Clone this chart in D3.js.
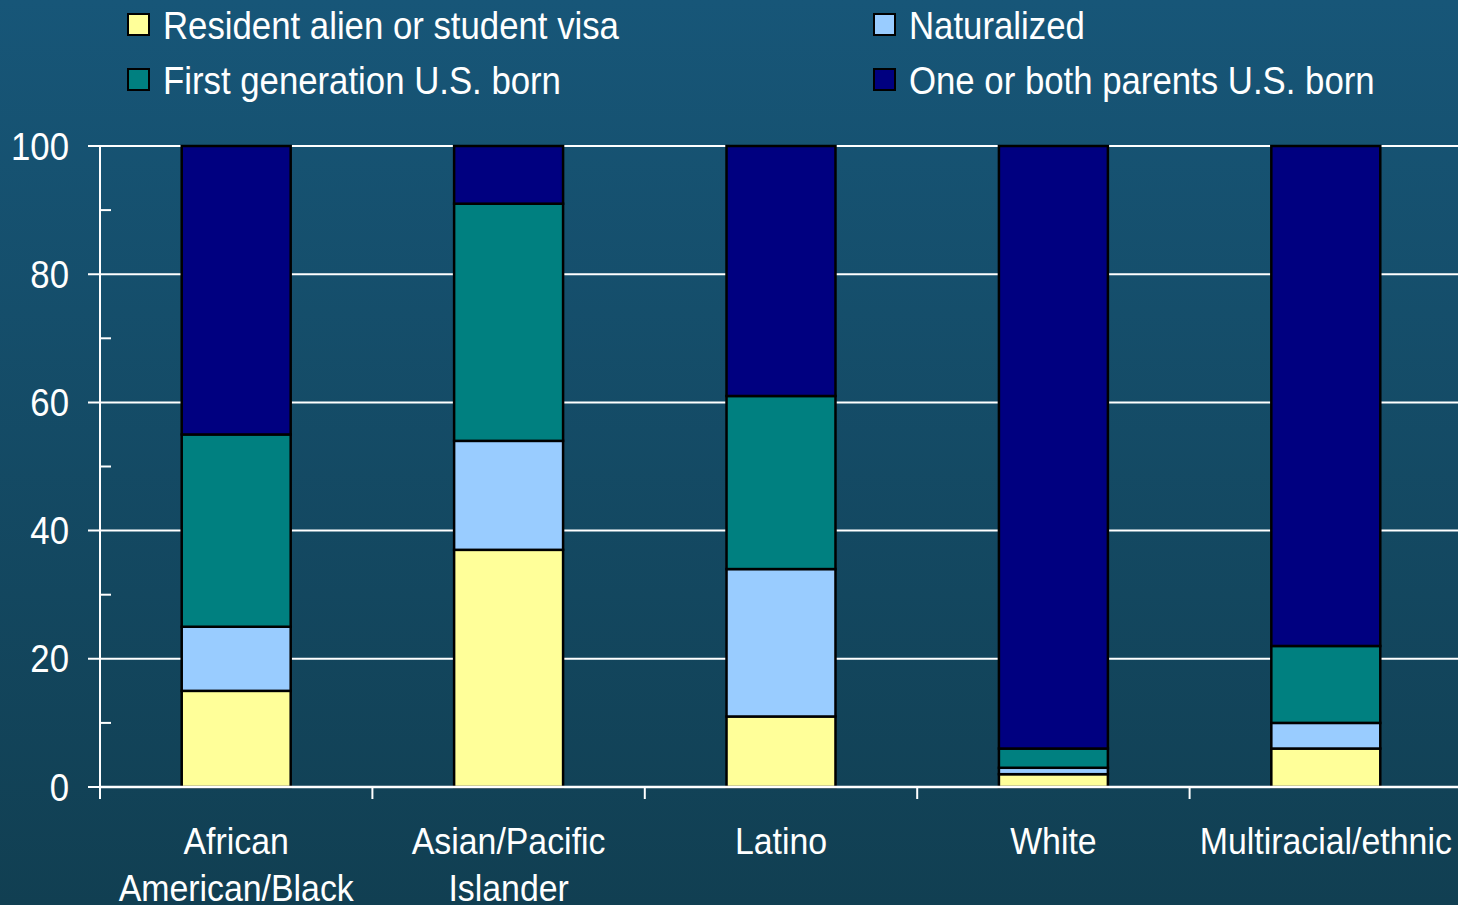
<!DOCTYPE html>
<html><head><meta charset="utf-8">
<script src="https://cdn.jsdelivr.net/npm/d3@7"></script>
<style>
html,body{margin:0;padding:0;overflow:hidden;background:#144a66;}
text{font-family:"Liberation Sans Narrow","Arial Narrow","Liberation Sans",sans-serif;fill:#fff;}
</style></head>
<body>
<svg id="c" width="1458" height="905"></svg>
<script>
const categories = ["African American/Black","Asian/Pacific Islander","Latino","White","Multiracial/ethnic"];
const categoryLines = [["African","American/Black"],["Asian/Pacific","Islander"],["Latino"],["White"],["Multiracial/ethnic"]];
const seriesNames = ["Resident alien or student visa","Naturalized","First generation U.S. born","One or both parents U.S. born"];
const residentVisa = [15, 37, 11, 2, 6];
const naturalized = [10, 17, 23, 1, 4];
const firstGen = [30, 37, 27, 3, 12];
const parentsBorn = [45, 9, 39, 94, 78];
const yTicks = [0, 20, 40, 60, 80, 100];
const colors = ["#ffff99", "#99ccff", "#008080", "#000080"];

const svg = d3.select("#c");
const W = 1458, H = 905;
const SX = 0.915;
const defs = svg.append("defs");
const grad = defs.append("linearGradient").attr("id","bg").attr("x1",0).attr("y1",0).attr("x2",0).attr("y2",1);
grad.append("stop").attr("offset","0%").attr("stop-color","#175678");
grad.append("stop").attr("offset","100%").attr("stop-color","#113f52");
svg.append("rect").attr("width",W).attr("height",H).attr("fill","url(#bg)");

function label(px, py, str, size, anchor, dy){
  const g = svg.append("g").attr("transform", `translate(${px},${py}) scale(${SX},1)`);
  g.append("text").attr("x",0).attr("y",0).attr("dy", dy||0).attr("text-anchor", anchor||"start")
    .attr("font-size", size).text(str);
  return g;
}

const x0 = 100, bandW = 272.4;
const x = d3.scaleBand().domain(categories).range([x0, x0 + bandW*5]).paddingInner(0.6).paddingOuter(0.3);
const y = d3.scaleLinear().domain([0,100]).range([787,146]);

// gridlines
svg.append("g").selectAll("line").data(yTicks).join("line")
  .attr("x1", 88).attr("x2", W).attr("y1", d=>y(d)).attr("y2", d=>y(d))
  .attr("stroke","#fff").attr("stroke-width",2);
// minor ticks
svg.append("g").selectAll("line").data(d3.range(10,100,20)).join("line")
  .attr("x1", x0).attr("x2", x0+11).attr("y1", d=>y(d)).attr("y2", d=>y(d))
  .attr("stroke","#fff").attr("stroke-width",2);
// y axis line
svg.append("line").attr("x1",x0).attr("x2",x0).attr("y1",y(100)).attr("y2",y(0)+12).attr("stroke","#fff").attr("stroke-width",2);
// y labels
yTicks.forEach(d=>label(69, y(d), d, 38, "end", "0.36em"));

// stacked bars
const rows = categories.map((c,i)=>({cat:c, s0:residentVisa[i], s1:naturalized[i], s2:firstGen[i], s3:parentsBorn[i]}));
const stack = d3.stack().keys(["s0","s1","s2","s3"])(rows);
stack.forEach((layer,k)=>{
  svg.append("g").selectAll("rect").data(layer).join("rect")
    .attr("x", d=>x(d.data.cat)).attr("width", x.bandwidth())
    .attr("y", d=>y(d[1])).attr("height", d=>y(d[0])-y(d[1]))
    .attr("fill", colors[k]).attr("stroke","#000").attr("stroke-width",2.5);
});

// x axis line & ticks
svg.append("line").attr("x1",x0).attr("x2",W).attr("y1",y(0)).attr("y2",y(0)).attr("stroke","#fff").attr("stroke-width",2.5);
svg.append("g").selectAll("line").data(d3.range(0,5)).join("line")
  .attr("x1", i=>x0+i*bandW).attr("x2", i=>x0+i*bandW).attr("y1", y(0)).attr("y2", y(0)+12)
  .attr("stroke","#fff").attr("stroke-width",2);

// category labels
categories.forEach((c,i)=>{
  const cx = x(c) + x.bandwidth()/2;
  categoryLines[i].forEach((ln,j)=>{
    label(cx, 854 + j*47, ln, 37, "middle");
  });
});

// legend
const legPos = [[128,25],[874,25],[128,80],[874,80]];
seriesNames.forEach((n,k)=>{
  const [lx,ly] = legPos[k];
  svg.append("rect").attr("x",lx).attr("y",ly-11).attr("width",21).attr("height",21)
    .attr("fill",colors[k]).attr("stroke","#000").attr("stroke-width",2);
  label(lx+35, ly, n, 38, "start", "0.36em");
});
</script>
</body></html>
